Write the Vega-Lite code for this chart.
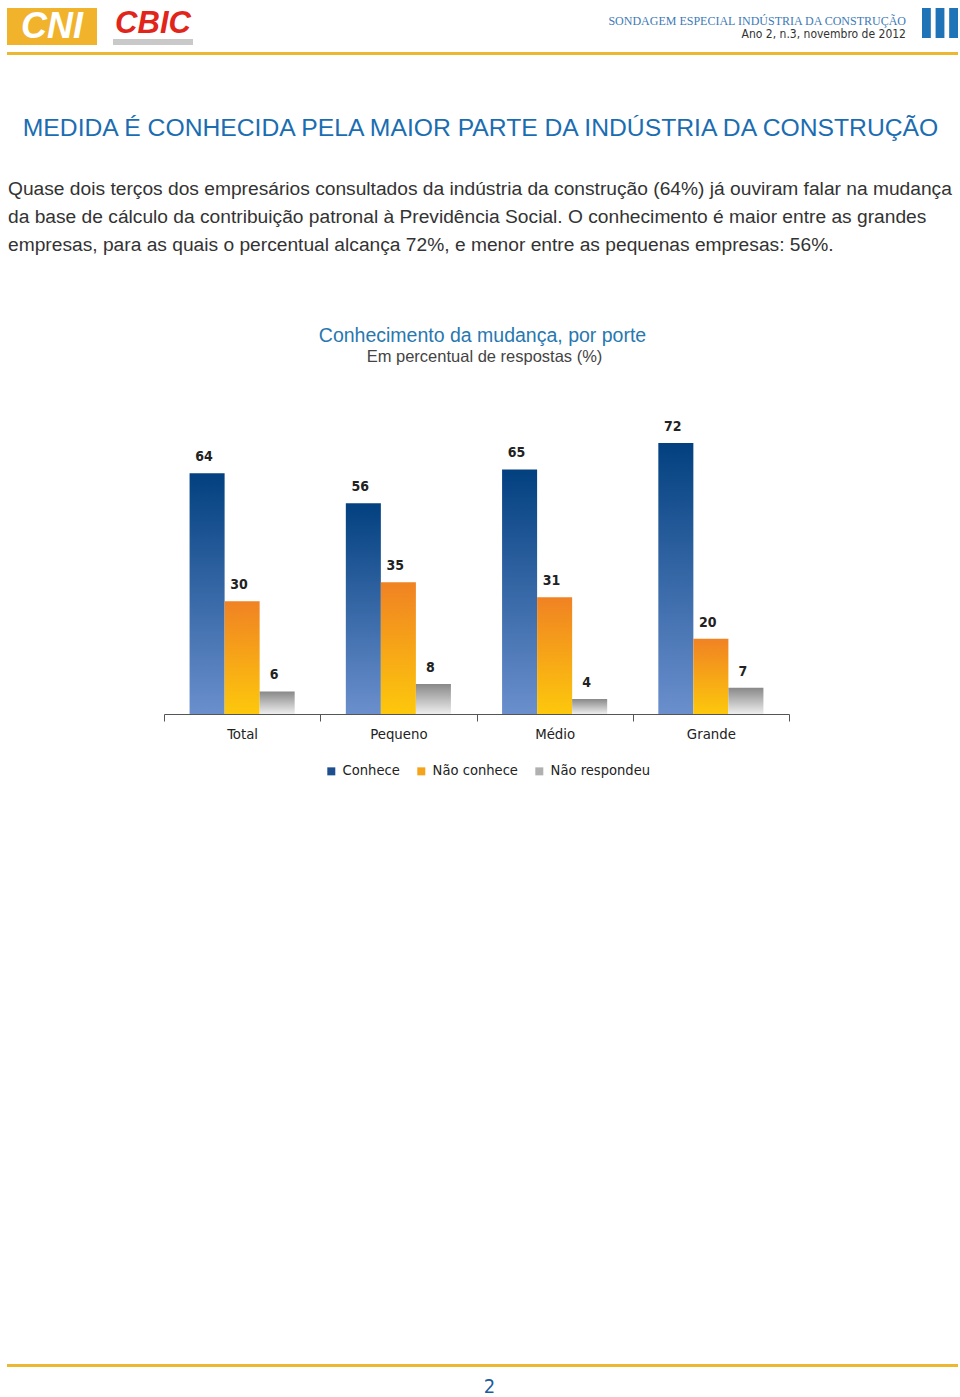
{
  "$schema": "https://vega.github.io/schema/vega-lite/v6.json",
  "background": "white",
  "padding": {"left": 7, "top": 7, "right": 0, "bottom": 0},
  "spacing": 0,
  "config": {"view": {"stroke": null}, "font": "Liberation Sans"},
  "vconcat": [
    {
      "spacing": 16,
      "hconcat": [
        {
          "width": 90, "height": 37,
          "view": {"fill": "#f1b32b", "stroke": null},
          "data": {"values": [{"t": "CNI"}]},
          "mark": {"type": "text", "font": "Liberation Sans", "fontSize": 36, "fontWeight": "bold", "fontStyle": "italic", "color": "white"},
          "encoding": {"text": {"field": "t"}}
        },
        {
          "spacing": 0,
          "vconcat": [
            {
              "width": 80, "height": 31,
              "data": {"values": [{"t": "CBIC"}]},
              "mark": {"type": "text", "font": "Liberation Sans", "fontSize": 31, "fontWeight": "bold", "fontStyle": "italic", "color": "#e1251b"},
              "encoding": {"text": {"field": "t"}}
            },
            {
              "width": 80, "height": 6,
              "view": {"fill": "#c9c9c9", "stroke": null},
              "data": {"values": []},
              "mark": "text"
            }
          ]
        },
        {
          "width": 697, "height": 37,
          "data": {"values": [{"a": "SONDAGEM ESPECIAL INDÚSTRIA DA CONSTRUÇÃO", "b": "Ano 2, n.3, novembro de 2012"}]},
          "layer": [
            {
              "mark": {"type": "text", "font": "Liberation Serif", "fontSize": 12, "color": "#3d7ab8", "align": "right", "baseline": "bottom", "dy": 1},
              "encoding": {"x": {"value": "width"}, "text": {"field": "a"}}
            },
            {
              "mark": {"type": "text", "font": "Liberation Sans Narrow, DejaVu Sans Condensed, sans-serif", "fontSize": 12, "color": "#333333", "align": "right", "baseline": "top", "dy": 2},
              "encoding": {"x": {"value": "width"}, "text": {"field": "b"}}
            }
          ]
        },
        {
          "width": 36, "height": 30,
          "data": {"values": [{"k": "a"}, {"k": "b"}, {"k": "c"}]},
          "mark": {"type": "bar", "color": "#1f74b8"},
          "encoding": {"x": {"field": "k", "type": "nominal", "axis": null, "scale": {"paddingInner": 0.35, "paddingOuter": 0}}}
        }
      ]
    },
    {"width": 10, "height": 7, "data": {"values": []}, "mark": "text"},
    {"width": 951, "height": 3, "view": {"fill": "#ecb731", "stroke": null}, "data": {"values": []}, "mark": "text"},
    {"width": 10, "height": 59, "data": {"values": []}, "mark": "text"},
    {
      "width": 951, "height": 30,
      "data": {"values": [{"t": "MEDIDA É CONHECIDA PELA MAIOR PARTE DA INDÚSTRIA DA CONSTRUÇÃO"}]},
      "mark": {"type": "text", "font": "Liberation Sans", "fontSize": 24.7, "color": "#1b6db2", "dx": -2},
      "encoding": {"text": {"field": "t"}}
    },
    {"width": 10, "height": 31, "data": {"values": []}, "mark": "text"},
    {
      "width": 951, "height": 84,
      "data": {"values": [
        {"linha": 1, "texto": "Quase dois terços dos empresários consultados da indústria da construção (64%) já ouviram falar na mudança"},
        {"linha": 2, "texto": "da base de cálculo da contribuição patronal à Previdência Social. O conhecimento é maior entre as grandes"},
        {"linha": 3, "texto": "empresas, para as quais o percentual alcança 72%, e menor entre as pequenas empresas: 56%."}
      ]},
      "mark": {"type": "text", "font": "Liberation Sans", "fontSize": 19.2, "color": "#333333", "align": "left", "baseline": "middle", "dx": 1},
      "encoding": {
        "x": {"value": 0},
        "y": {"field": "linha", "type": "ordinal", "axis": null, "scale": {"padding": 0.5}},
        "text": {"field": "texto"}
      }
    },
    {"width": 10, "height": 66, "data": {"values": []}, "mark": "text"},
    {
      "width": 951, "height": 22,
      "data": {"values": [{"t": "Conhecimento da mudança, por porte"}]},
      "mark": {"type": "text", "font": "Liberation Sans", "fontSize": 19.5, "color": "#2778af"},
      "encoding": {"text": {"field": "t"}}
    },
    {
      "width": 951, "height": 20,
      "data": {"values": [{"t": "Em percentual de respostas (%)"}]},
      "mark": {"type": "text", "font": "Liberation Sans", "fontSize": 16.5, "color": "#444444", "dx": 2},
      "encoding": {"text": {"field": "t"}}
    },
    {"width": 10, "height": 46, "data": {"values": []}, "mark": "text"},
    {
      "spacing": 16,
      "hconcat": [
        {"width": 140, "height": 301, "data": {"values": []}, "mark": "text"},
        {
          "width": 625, "height": 301,
          "data": {"values": [
            {"porte": "Total", "serie": "Conhece", "valor": 64},
            {"porte": "Total", "serie": "Não conhece", "valor": 30},
            {"porte": "Total", "serie": "Não respondeu", "valor": 6},
            {"porte": "Pequeno", "serie": "Conhece", "valor": 56},
            {"porte": "Pequeno", "serie": "Não conhece", "valor": 35},
            {"porte": "Pequeno", "serie": "Não respondeu", "valor": 8},
            {"porte": "Médio", "serie": "Conhece", "valor": 65},
            {"porte": "Médio", "serie": "Não conhece", "valor": 31},
            {"porte": "Médio", "serie": "Não respondeu", "valor": 4},
            {"porte": "Grande", "serie": "Conhece", "valor": 72},
            {"porte": "Grande", "serie": "Não conhece", "valor": 20},
            {"porte": "Grande", "serie": "Não respondeu", "valor": 7}
          ]},
          "encoding": {
            "x": {
              "field": "porte", "type": "nominal",
              "sort": ["Total", "Pequeno", "Médio", "Grande"],
              "scale": {"paddingInner": 0, "paddingOuter": 0},
              "axis": {
                "title": null, "labelAngle": 0, "tickBand": "extent",
                "domainColor": "#555555", "tickColor": "#555555", "tickSize": 7, "grid": false,
                "labelFont": "Liberation Sans Narrow, DejaVu Sans Condensed, sans-serif",
                "labelFontSize": 14.8, "labelColor": "#222222", "labelPadding": 5
              }
            },
            "xOffset": {
              "field": "serie", "type": "nominal",
              "sort": ["Conhece", "Não conhece", "Não respondeu"],
              "scale": {"paddingInner": 0, "paddingOuter": 0.73}
            },
            "y": {"field": "valor", "type": "quantitative", "scale": {"domain": [0, 80]}, "axis": null}
          },
          "layer": [
            {
              "mark": {"type": "bar"},
              "encoding": {
                "fill": {
                  "condition": [
                    {"test": "datum.serie === 'Conhece'", "value": {"gradient": "linear", "x1": 0, "y1": 0, "x2": 0, "y2": 1, "stops": [{"offset": 0, "color": "#02407f"}, {"offset": 1, "color": "#6b8fcd"}]}},
                    {"test": "datum.serie === 'Não conhece'", "value": {"gradient": "linear", "x1": 0, "y1": 0, "x2": 0, "y2": 1, "stops": [{"offset": 0, "color": "#f08223"}, {"offset": 1, "color": "#fdc80c"}]}}
                  ],
                  "value": {"gradient": "linear", "x1": 0, "y1": 0, "x2": 0, "y2": 1, "stops": [{"offset": 0, "color": "#888888"}, {"offset": 1, "color": "#eeeeee"}]}
                }
              }
            },
            {
              "mark": {"type": "bar", "opacity": 0},
              "encoding": {
                "color": {
                  "field": "serie", "type": "nominal",
                  "sort": ["Conhece", "Não conhece", "Não respondeu"],
                  "scale": {"domain": ["Conhece", "Não conhece", "Não respondeu"], "range": ["#1d4f8f", "#f6a31c", "#b0b0b0"]},
                  "legend": {
                    "title": null, "orient": "none", "legendX": 317, "legendY": 756,
                    "direction": "horizontal", "symbolType": "square", "symbolSize": 64,
                    "symbolStrokeWidth": 0, "symbolOpacity": 1,
                    "labelFont": "Liberation Sans Narrow, DejaVu Sans Condensed, sans-serif",
                    "labelFontSize": 14.6, "labelColor": "#222222", "labelOffset": 4, "columnPadding": 14
                  }
                }
              }
            },
            {
              "mark": {"type": "text", "font": "Liberation Sans Narrow, DejaVu Sans Condensed, sans-serif", "fontSize": 14, "fontWeight": "bold", "color": "#222222", "baseline": "bottom", "dy": -9, "dx": -3},
              "encoding": {"text": {"field": "valor", "type": "quantitative"}}
            }
          ]
        }
      ]
    },
    {"width": 10, "height": 623, "data": {"values": []}, "mark": "text"},
    {"width": 951, "height": 3, "view": {"fill": "#ecb731", "stroke": null}, "data": {"values": []}, "mark": "text"},
    {"width": 10, "height": 9, "data": {"values": []}, "mark": "text"},
    {
      "width": 951, "height": 17,
      "data": {"values": [{"t": "2"}]},
      "mark": {"type": "text", "font": "Liberation Sans Narrow, DejaVu Sans Condensed, sans-serif", "fontSize": 20, "color": "#1d5c9b", "dx": 7},
      "encoding": {"text": {"field": "t"}}
    }
  ]
}
